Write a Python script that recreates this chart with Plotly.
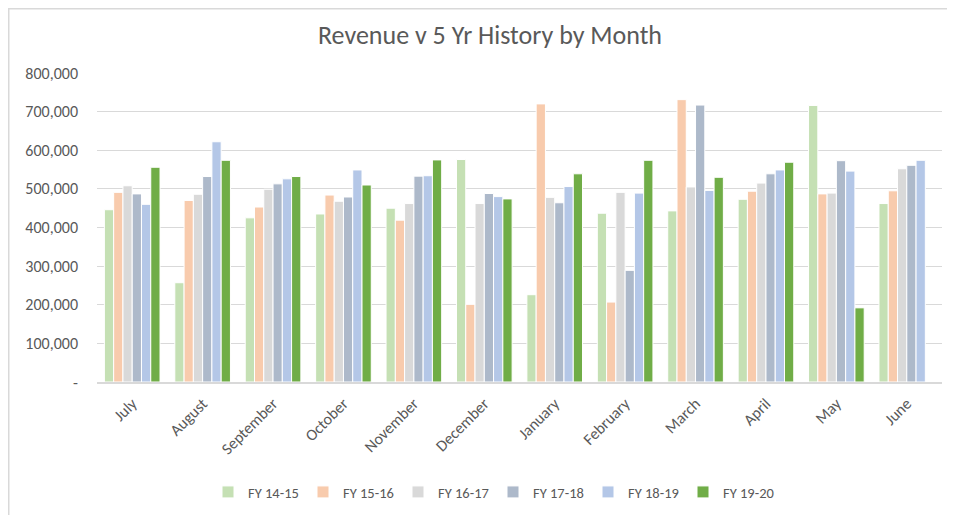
import plotly.graph_objects as go

months = ["July", "August", "September", "October", "November", "December",
          "January", "February", "March", "April", "May", "June"]

fy_14_15 = [446000, 257000, 425000, 435000, 450000, 576000, 226000, 437000, 443000, 473000, 716000, 462000]
fy_15_16 = [491000, 470000, 453000, 484000, 419000, 201000, 720000, 207000, 731000, 494000, 487000, 495000]
fy_16_17 = [508000, 486000, 499000, 468000, 462000, 462000, 478000, 491000, 505000, 515000, 489000, 552000]
fy_17_18 = [487000, 532000, 513000, 479000, 533000, 488000, 464000, 289000, 717000, 539000, 573000, 561000]
fy_18_19 = [460000, 622000, 526000, 549000, 534000, 480000, 506000, 489000, 496000, 549000, 546000, 574000]
fy_19_20 = [556000, 574000, 532000, 510000, 575000, 474000, 539000, 574000, 530000, 569000, 192000, None]

series_names = ["FY 14-15", "FY 15-16", "FY 16-17", "FY 17-18", "FY 18-19", "FY 19-20"]
series_values = [fy_14_15, fy_15_16, fy_16_17, fy_17_18, fy_18_19, fy_19_20]
colors = ["#C5E0B4", "#F8CBAD", "#D9D9D9", "#ADB9CA", "#B4C7E7", "#70AD47"]

y_tickvals = [0, 100000, 200000, 300000, 400000, 500000, 600000, 700000, 800000]
y_ticktext = ["-", "100,000", "200,000", "300,000", "400,000", "500,000", "600,000", "700,000", "800,000"]

FONT = "Carlito, Calibri, 'Liberation Sans', sans-serif"
GRAY = "#595959"

fig = go.Figure()
for name, vals, col in zip(series_names, series_values, colors):
    fig.add_trace(go.Bar(
        x=months, y=vals, name=name,
        marker=dict(color=col, line=dict(color="white", width=1)),
    ))

# page body has an 8px margin; figure coords = screen coords - 8
OFF = 8
W, H = 955 - OFF, 515 - OFF
L, R, T, B = 97 - OFF, 13, 73 - OFF, 133
pw, ph = W - L - R, H - T - B

def px_x(s):
    return (s - OFF - L) / pw

def px_y(s):
    return (H - B - (s - OFF)) / ph

fig.update_layout(
    width=W, height=H,
    margin=dict(l=L, r=R, t=T, b=B, autoexpand=False),
    paper_bgcolor="white", plot_bgcolor="white",
    barmode="group", bargap=0.21, bargroupgap=0,
    font=dict(family=FONT, color=GRAY, size=16),
    title=dict(text="Revenue v 5 Yr History by Month", x=(490 - OFF) / W, xanchor="center",
               y=1 - (35 - OFF) / H, yanchor="middle",
               font=dict(size=26, color=GRAY, family=FONT)),
    showlegend=True,
    legend=dict(orientation="h", xref="container", yref="container",
                x=(208 - OFF) / W, xanchor="left", y=1 - (492 - OFF) / H, yanchor="middle",
                font=dict(size=14.5, color=GRAY), itemwidth=30, entrywidth=50,
                entrywidthmode="pixels", traceorder="normal"),
    xaxis=dict(tickangle=-45, showgrid=False, showline=True, linecolor="#D9D9D9", linewidth=2,
               ticks="", tickfont=dict(size=16, color=GRAY), ticklabelstandoff=4, automargin=False),
    yaxis=dict(range=[0, 800000], tickvals=y_tickvals, ticktext=y_ticktext,
               showgrid=True, gridcolor="#D9D9D9", gridwidth=1, zeroline=False,
               showline=False, ticks="", tickfont=dict(size=16, color=GRAY), ticklabelstandoff=18,
               automargin=False),
    shapes=[dict(type="rect", xref="paper", yref="paper",
                 x0=px_x(OFF + 0.75), x1=px_x(990), y0=px_y(560), y1=px_y(OFF + 0.75),
                 line=dict(color="#D9D9D9", width=1.5), fillcolor="rgba(0,0,0,0)", layer="below")],
)

fig.write_html("out.html")
